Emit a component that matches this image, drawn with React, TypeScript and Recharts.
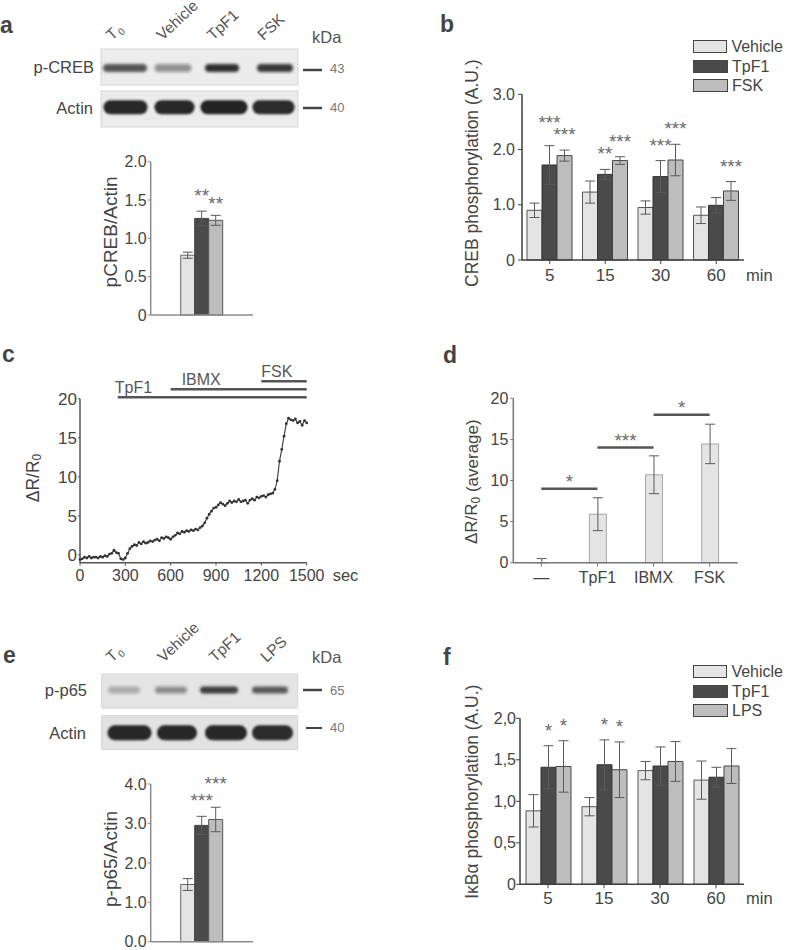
import React from 'react';
import {
  BarChart, Bar, XAxis, YAxis, ErrorBar, LabelList, Legend,
  LineChart, Line, ReferenceLine,
} from 'recharts';

const FONT = '"Liberation Sans", Arial, sans-serif';
const INK = '#444';
const STAR = '#6a6a6a';
const LIGHT = '#e4e4e4';
const DARK = '#4a4a4a';
const MID = '#bdbdbd';

// ---- panel a : blot + pCREB/Actin
const lanesA = ['T0', 'Vehicle', 'TpF1', 'FSK'];
const pCrebBand = [0.72, 0.42, 0.92, 0.88];
const actinBandA = [0.95, 0.95, 0.97, 0.93];
const pCrebActin = [0.78, 1.26, 1.235];
const pCrebActinErr = [0.04, 0.095, 0.065];
const pCrebActinStars = ['', '**', '**'];

// ---- panel b : CREB phosphorylation over time
const timeLabels = ['5', '15', '30', '60'];
const crebVehicle = [0.9, 1.23, 0.95, 0.81];
const crebVehicleErr = [0.13, 0.2, 0.12, 0.15];
const crebTpF1 = [1.72, 1.55, 1.51, 0.99];
const crebTpF1Err = [0.35, 0.09, 0.29, 0.14];
const crebTpF1Stars = ['***', '**', '***', ''];
const crebFSK = [1.89, 1.8, 1.81, 1.25];
const crebFSKErr = [0.1, 0.07, 0.285, 0.17];
const crebFSKStars = ['***', '***', '***', '***'];

// ---- panel c : FRET trace
const traceTime = [
  0, 15, 30, 45, 60, 75, 90, 105, 120, 135, 150, 165, 180, 195, 210, 225, 240, 255, 270, 285,
  300, 315, 330, 345, 360, 375, 390, 405, 420, 435, 450, 465, 480, 495, 510, 525, 540, 555, 570, 585,
  600, 615, 630, 645, 660, 675, 690, 705, 720, 735, 750, 765, 780, 795, 810, 825, 840, 855, 870, 885,
  900, 915, 930, 945, 960, 975, 990, 1005, 1020, 1035, 1050, 1065, 1080, 1095, 1110, 1125, 1140, 1155, 1170, 1185,
  1200, 1215, 1230, 1245, 1260, 1275, 1290, 1305, 1320, 1335, 1350, 1365, 1380, 1395, 1410, 1425, 1440, 1455, 1470, 1485,
  1500,
];
const traceRatio = [
  -0.6, -0.5, -0.3, -0.4, -0.2, -0.4, -0.3, -0.3, -0.4, -0.2, -0.3, -0.1, -0.2, 0.1, 0.2, 0.6, 0.3, 0.2, -0.5, -0.6,
  -0.4, 0.2, 0.8, 1.1, 1.3, 1.2, 1.6, 1.4, 1.7, 1.5, 1.6, 1.8, 1.7, 1.9, 2.0, 1.8, 2.2, 2.1, 2.3, 2.2,
  2.0, 2.3, 2.5, 2.8, 2.7, 3.0, 2.9, 3.1, 3.0, 3.2, 3.1, 3.3, 3.2, 3.5, 3.7, 4.1, 4.7, 5.2, 5.6, 6.0,
  6.1, 6.4, 6.7, 6.5, 6.3, 6.6, 6.9, 6.7, 6.9, 6.8, 7.1, 6.8, 6.9, 7.0, 6.6, 7.0, 7.2, 7.0, 7.4, 7.3,
  7.5, 7.6, 7.4, 7.7, 7.8, 7.9, 8.4, 9.5, 12.0, 13.5, 15.2, 16.8, 17.5, 17.3, 17.2, 17.4, 16.9, 17.1, 16.6, 17.2,
  16.9,
];
const secTicks = [0, 300, 600, 900, 1200, 1500];
const drugNames = ['TpF1', 'IBMX', 'FSK'];
const drugStart = [250, 600, 1200];
const drugEnd = [1500, 1500, 1500];
const drugLevel = [20.2, 21.2, 22.25];

// ---- panel d : average response
const stimNames = ['—', 'TpF1', 'IBMX', 'FSK'];
const stimMean = [0.02, 5.9, 10.7, 14.45];
const stimErr: [number, number][] = [[0.02, 0.48], [2.0, 2.0], [2.3, 2.3], [2.4, 2.4]];
const pairFrom = ['—', 'TpF1', 'IBMX'];
const pairTo = ['TpF1', 'IBMX', 'FSK'];
const pairLevel = [9, 14, 18];
const pairStars = ['*', '***', '*'];

// ---- panel e : blot + p-p65/Actin
const lanesE = ['T0', 'Vehicle', 'TpF1', 'LPS'];
const pP65Band = [0.28, 0.42, 0.85, 0.7];
const actinBandE = [0.95, 0.95, 0.95, 0.93];
const pP65Actin = [1.45, 2.95, 3.1];
const pP65ActinErr = [0.15, 0.23, 0.31];
const pP65ActinStars = ['', '***', '***'];

// ---- panel f : IkBa phosphorylation over time
const ikbVehicle = [0.885, 0.935, 1.37, 1.255];
const ikbVehicleErr = [0.195, 0.11, 0.11, 0.23];
const ikbTpF1 = [1.41, 1.44, 1.425, 1.29];
const ikbTpF1Err = [0.26, 0.3, 0.23, 0.12];
const ikbTpF1Stars = ['*', '*', '', ''];
const ikbLPS = [1.42, 1.38, 1.48, 1.425];
const ikbLPSErr = [0.31, 0.335, 0.24, 0.21];
const ikbLPSStars = ['*', '*', '', ''];

// rows for the library
const ratioA = [{
  name: '',
  veh: pCrebActin[0], vehErr: pCrebActinErr[0], vehStar: pCrebActinStars[0],
  tpf: pCrebActin[1], tpfErr: pCrebActinErr[1], tpfStar: pCrebActinStars[1],
  oth: pCrebActin[2], othErr: pCrebActinErr[2], othStar: pCrebActinStars[2],
}];
const ratioE = [{
  name: '',
  veh: pP65Actin[0], vehErr: pP65ActinErr[0], vehStar: pP65ActinStars[0],
  tpf: pP65Actin[1], tpfErr: pP65ActinErr[1], tpfStar: pP65ActinStars[1],
  oth: pP65Actin[2], othErr: pP65ActinErr[2], othStar: pP65ActinStars[2],
}];
const crebRows = timeLabels.map((t, i) => ({
  time: t,
  veh: crebVehicle[i], vehErr: crebVehicleErr[i],
  tpf: crebTpF1[i], tpfErr: crebTpF1Err[i], tpfStar: crebTpF1Stars[i],
  oth: crebFSK[i], othErr: crebFSKErr[i], othStar: crebFSKStars[i],
}));
const ikbRows = timeLabels.map((t, i) => ({
  time: t,
  veh: ikbVehicle[i], vehErr: ikbVehicleErr[i],
  tpf: ikbTpF1[i], tpfErr: ikbTpF1Err[i], tpfStar: ikbTpF1Stars[i],
  oth: ikbLPS[i], othErr: ikbLPSErr[i], othStar: ikbLPSStars[i],
}));
const traceRows = traceTime.map((t, i) => ({ t, r: traceRatio[i] }));
const stimRows = stimNames.map((n, i) => ({ name: n, mean: stimMean[i], err: stimErr[i] }));

// star sits ~20px over the top of the error bar
const starLabel = (rows: any[], key: string, lift: number[] = []) => (props: any) => {
  const vb = props.viewBox || props;
  const { index, value } = props;
  if (!value) return null;
  const row = rows[index];
  const ppu = vb.height / row[key];
  const top = vb.y - row[key + 'Err'] * ppu;
  const cy = top - 20 - (lift[index] || 0);
  return (
    <text x={vb.x + vb.width / 2} y={cy + 11} textAnchor="middle" fontSize={19} fill={STAR}>
      {value}
    </text>
  );
};

const yTitle = (content: React.ReactNode, gap: number, dy: number, size: number) => (props: any) => {
  const vb = props.viewBox;
  const cx = vb.x + vb.width - gap;
  const cy = vb.y + vb.height / 2 + dy;
  return (
    <text x={cx} y={cy} transform={`rotate(-90 ${cx} ${cy})`} textAnchor="middle"
      dominantBaseline="central" fontSize={size} fill={INK}>
      {content}
    </text>
  );
};

const unitLabel = (text: string, gap: number, dy: number) => (props: any) => {
  const vb = props.viewBox;
  return (
    <text x={vb.x + vb.width + gap} y={vb.y + dy} dominantBaseline="central" fontSize={16.5} fill={INK}>
      {text}
    </text>
  );
};

const legendBoxes = (names: string[]) => (props: any) => {
  const items = [...(props.payload || [])].sort(
    (a: any, b: any) => names.indexOf(a.value) - names.indexOf(b.value),
  );
  return (
    <div style={{ display: 'flex', flexDirection: 'column', gap: 6.5 }}>
      {items.map((p: any) => (
        <div key={p.value} style={{ display: 'flex', alignItems: 'center', height: 13 }}>
          <span style={{
            width: 33, height: 11, display: 'inline-block',
            background: (p.payload && p.payload.fill) || p.color, border: '1px solid #444',
          }} />
          <span style={{ marginLeft: 4, fontSize: 16, color: INK, lineHeight: '13px' }}>{p.value}</span>
        </div>
      ))}
    </div>
  );
};

const errStyle = { width: 5, stroke: '#5a5a5a', strokeWidth: 1 };

function Blot({ x, y, w, h, bg, laneX, widths, bandY, bandH, strength, blur }: any) {
  return (
    <g>
      <rect x={x} y={y} width={w} height={h} fill={bg} stroke="#d6d6d6" strokeWidth={1} />
      <g filter={`url(#${blur})`}>
        {strength.map((k: number, i: number) => (
          <rect key={i} x={x + laneX[i] - widths[i] / 2} y={y + bandY - bandH / 2}
            width={widths[i]} height={bandH} rx={bandH / 2}
            fill={`rgba(28,28,28,${k})`} />
        ))}
      </g>
    </g>
  );
}

function LaneNames({ names, x0, step, y }: any) {
  return (
    <g>
      {names.map((n: string, i: number) => {
        const x = x0 + i * step;
        return (
          <text key={n} x={x} y={y} transform={`rotate(-43 ${x} ${y})`} fontSize={15.5} fill="#555">
            {n === 'T0' ? <>T<tspan fontSize={10} dy={3} dx={1}>0</tspan></> : n}
          </text>
        );
      })}
    </g>
  );
}

function Overlay() {
  const letter = { fontSize: 23, fontWeight: 700, fill: '#444' } as const;
  const side = { fontSize: 16.5, fill: INK, textAnchor: 'end' as const, dominantBaseline: 'central' as const };
  const kda = { fontSize: 13, fill: '#777', dominantBaseline: 'central' as const };
  return (
    <svg width={787} height={950} style={{ position: 'absolute', left: 0, top: 0, pointerEvents: 'none' }}>
      <defs>
        <filter id="soft" x="-20%" y="-60%" width="140%" height="220%">
          <feGaussianBlur stdDeviation="1.6" />
        </filter>
        <filter id="soft2" x="-20%" y="-60%" width="140%" height="220%">
          <feGaussianBlur stdDeviation="1.1" />
        </filter>
      </defs>
      <text x={0} y={33} {...letter}>a</text>
      <text x={440} y={32} {...letter}>b</text>
      <text x={2} y={362} {...letter}>c</text>
      <text x={443} y={363} {...letter}>d</text>
      <text x={3} y={663} {...letter}>e</text>
      <text x={443} y={665} {...letter}>f</text>

      {/* blot a */}
      <LaneNames names={lanesA} x0={112} step={50.5} y={41} />
      <text x={312} y={37} fontSize={16.5} fill="#555" dominantBaseline="central">kDa</text>
      <Blot x={101} y={49} w={197} h={36} bg="#ececec" laneX={[24, 72, 121, 174]} widths={[44, 37, 34, 36]}
        bandY={19} bandH={8} strength={pCrebBand} blur="soft" />
      <Blot x={101} y={91} w={197} h={36} bg="#ebebeb" laneX={[24.5, 73.5, 123, 172.5]} widths={[44, 40, 47, 42]}
        bandY={16.3} bandH={14} strength={actinBandA} blur="soft2" />
      <text x={94} y={67} {...side}>p-CREB</text>
      <text x={93} y={108} {...side}>Actin</text>
      <line x1={303} x2={322} y1={70} y2={70} stroke="#444" strokeWidth={2.5} />
      <line x1={303} x2={322} y1={108} y2={108} stroke="#444" strokeWidth={2.5} />
      <text x={330} y={68} {...kda}>43</text>
      <text x={330} y={107} {...kda}>40</text>

      {/* blot e */}
      <LaneNames names={lanesE} x0={112} step={51.5} y={663} />
      <text x={312} y={657} fontSize={16.5} fill="#555" dominantBaseline="central">kDa</text>
      <Blot x={101.7} y={674} w={196} h={34} bg="#e4e4e4" laneX={[22.3, 69.3, 117.3, 168.3]} widths={[32, 32, 38, 36]}
        bandY={16} bandH={7} strength={pP65Band} blur="soft" />
      <Blot x={101.7} y={715.7} w={196} h={34} bg="#e2e2e2" laneX={[27.8, 75.3, 124.3, 170.8]} widths={[44, 40, 42, 41]}
        bandY={17} bandH={15} strength={actinBandE} blur="soft2" />
      <text x={87} y={690} {...side}>p-p65</text>
      <text x={86} y={733} {...side}>Actin</text>
      <line x1={303} x2={322} y1={690} y2={690} stroke="#444" strokeWidth={2.5} />
      <line x1={306} x2={322} y1={728} y2={728} stroke="#444" strokeWidth={2} />
      <text x={330} y={690} {...kda}>65</text>
      <text x={330} y={727.5} {...kda}>40</text>
    </svg>
  );
}

function RatioChart({ rows, top, domain, ticks, fmt, title, titleDy, lift }: any) {
  const axis = { stroke: '#8c8c8c', strokeWidth: 1.5 };
  const first = top === 150;
  return (
    <div style={{ position: 'absolute', left: 60, top }}>
      <BarChart width={205} height={first ? 175 : 184.7} data={rows} barSize={14} barGap={0}
        margin={{ top: first ? 11.7 : 19, right: 12, bottom: first ? 5 : 3, left: 0 }}>
        <XAxis dataKey="name" tick={false} tickLine={false} axisLine={axis} height={5} />
        <YAxis width={90.7} domain={domain} ticks={ticks} tickFormatter={fmt} interval={0}
          axisLine={axis} tickLine={{ stroke: '#8c8c8c' }} tickSize={3} tickMargin={1}
          tick={{ fontSize: 16, fill: INK }} label={yTitle(title, 40, titleDy, 19)} />
        <Bar dataKey="veh" fill={LIGHT} stroke="#666" isAnimationActive={false}>
          <ErrorBar dataKey="vehErr" direction="y" {...errStyle} />
        </Bar>
        <Bar dataKey="tpf" fill={DARK} stroke="#444" isAnimationActive={false}>
          <ErrorBar dataKey="tpfErr" direction="y" {...errStyle} />
          <LabelList dataKey="tpfStar" content={starLabel(rows, 'tpf')} />
        </Bar>
        <Bar dataKey="oth" fill={MID} stroke="#555" isAnimationActive={false}>
          <ErrorBar dataKey="othErr" direction="y" {...errStyle} />
          <LabelList dataKey="othStar" content={starLabel(rows, 'oth', [lift])} />
        </Bar>
      </BarChart>
    </div>
  );
}

function TimeChart({ rows, top, domain, ticks, fmt, title, titleDy, names, lift }: any) {
  const axis = { stroke: '#3f3f3f', strokeWidth: 1.5 };
  const first = top === 30;
  return (
    <div style={{ position: 'absolute', left: 440, top }}>
      <BarChart width={340} height={first ? 265 : 264.3} data={rows} barSize={15} barGap={0}
        margin={{ top: first ? 64.3 : 63.3, right: 36, bottom: 5, left: 0 }}>
        <XAxis dataKey="time" axisLine={axis} tickLine={{ stroke: '#3f3f3f' }} tickSize={4}
          tickMargin={first ? 5 : 4} height={30} interval={0} tick={{ fontSize: 17, fill: INK }}
          label={unitLabel('min', 2, first ? 15 : 14)} />
        <YAxis width={first ? 82 : 80} domain={domain} ticks={ticks} tickFormatter={fmt} interval={0}
          axisLine={axis} tickLine={{ stroke: '#3f3f3f' }} tickSize={4} tickMargin={first ? 3 : 0}
          tick={{ fontSize: 16, fill: INK }} label={yTitle(title, first ? 50.3 : 48.3, titleDy, 17.5)} />
        <Legend layout="vertical" align="center" verticalAlign="middle" content={legendBoxes(names)}
          wrapperStyle={{ left: 253, top: 10, width: 90, height: 60 }} />
        <Bar dataKey="veh" name={names[0]} fill={LIGHT} stroke="#555" isAnimationActive={false}>
          <ErrorBar dataKey="vehErr" direction="y" {...errStyle} />
        </Bar>
        <Bar dataKey="tpf" name={names[1]} fill={DARK} stroke="#333" isAnimationActive={false}>
          <ErrorBar dataKey="tpfErr" direction="y" {...errStyle} />
          <LabelList dataKey="tpfStar" content={starLabel(rows, 'tpf', lift)} />
        </Bar>
        <Bar dataKey="oth" name={names[2]} fill={MID} stroke="#444" isAnimationActive={false}>
          <ErrorBar dataKey="othErr" direction="y" {...errStyle} />
          <LabelList dataKey="othStar" content={starLabel(rows, 'oth')} />
        </Bar>
      </BarChart>
    </div>
  );
}

const drugLabelDx = [-3, 11, 0];

function TraceChart() {
  const axis = { stroke: '#555', strokeWidth: 1.5 };
  return (
    <div style={{ position: 'absolute', left: 20, top: 355 }}>
      <LineChart width={350} height={237.7} data={traceRows}
        margin={{ top: 43.7, right: 63.3, bottom: 5, left: 0 }}>
        <XAxis type="number" dataKey="t" domain={[0, 1500]} ticks={secTicks} interval={0}
          axisLine={axis} tickLine={{ stroke: '#555' }} tickSize={3} tickMargin={3.5} height={25}
          tick={{ fontSize: 16, fill: INK }} label={unitLabel('sec', 26, 12.3)} />
        <YAxis type="number" domain={[-1, 20]} ticks={[0, 5, 10, 15, 20]} interval={0} width={60}
          axisLine={axis} tickLine={{ stroke: '#555' }} tickSize={2} tickMargin={1}
          tick={{ fontSize: 17, fill: INK }}
          label={yTitle(<>ΔR/R<tspan fontSize={12} dy={4}>0</tspan></>, 47, -2.7, 17.5)} />
        {drugNames.map((d, i) => (
          <ReferenceLine key={d} ifOverflow="visible" stroke="#555" strokeWidth={2.5}
            segment={[{ x: drugStart[i], y: drugLevel[i] }, { x: drugEnd[i], y: drugLevel[i] }]}
            label={(p: any) => (
              <text x={p.viewBox.x + drugLabelDx[i]} y={p.viewBox.y - 4.5} fontSize={16} fill="#555">{d}</text>
            )} />
        ))}
        <Line type="linear" dataKey="r" stroke="#3a3a3a" strokeWidth={1.1}
          dot={{ r: 1.4, fill: '#333', stroke: 'none' }} isAnimationActive={false} />
      </LineChart>
    </div>
  );
}

function StimChart() {
  const axis = { stroke: '#777', strokeWidth: 1.5 };
  return (
    <div style={{ position: 'absolute', left: 440, top: 370 }}>
      <BarChart width={320} height={222.7} data={stimRows} barSize={17}
        margin={{ top: 28.3, right: 22.3, bottom: 5, left: 0 }}>
        <XAxis dataKey="name" axisLine={axis} tickLine={{ stroke: '#777' }} tickSize={4} tickMargin={4.5}
          height={25} interval={0} tick={{ fontSize: 16, fill: INK }} />
        <YAxis domain={[0, 20]} ticks={[0, 5, 10, 15, 20]} interval={0} width={73.3}
          axisLine={axis} tickLine={{ stroke: '#777' }} tickSize={3} tickMargin={2}
          tick={{ fontSize: 16, fill: INK }}
          label={yTitle(<>ΔR/R<tspan fontSize={12} dy={4}>0</tspan><tspan dy={-4}> (average)</tspan></>, 41.6, 1.2, 17)} />
        {pairStars.map((s, i) => (
          <ReferenceLine key={i} stroke="#555" strokeWidth={2.5} ifOverflow="visible"
            segment={[{ x: pairFrom[i], y: pairLevel[i] }, { x: pairTo[i], y: pairLevel[i] }]}
            label={(p: any) => (
              <text x={p.viewBox.x + p.viewBox.width / 2} y={p.viewBox.y - 1} textAnchor="middle"
                fontSize={19} fill={STAR}>{s}</text>
            )} />
        ))}
        <Bar dataKey="mean" fill={LIGHT} stroke="#777" strokeWidth={0.6} isAnimationActive={false}>
          <ErrorBar dataKey="err" direction="y" {...errStyle} />
        </Bar>
      </BarChart>
    </div>
  );
}

export default function App() {
  const dot1 = (v: number) => (v === 0 ? '0' : v.toFixed(1));
  const comma = (v: number) => (v === 0 ? '0' : v.toFixed(1).replace('.', ','));
  return (
    <div style={{
      position: 'absolute', left: 0, top: 0, width: 787, height: 950,
      background: '#fff', fontFamily: FONT, overflow: 'hidden',
    }}>
      <Overlay />
      <RatioChart rows={ratioA} top={150} domain={[0, 2]} ticks={[0, 0.5, 1, 1.5, 2]} fmt={dot1}
        title="pCREB/Actin" titleDy={-6.4} lift={-4} />
      <RatioChart rows={ratioE} top={765} domain={[0, 4]} ticks={[0, 1, 2, 3, 4]}
        fmt={(v: number) => v.toFixed(1)} title="p-p65/Actin" titleDy={-3.9} lift={8} />
      <TimeChart rows={crebRows} top={30} domain={[0, 3]} ticks={[0, 1, 2, 3]} fmt={dot1}
        title="CREB phosphorylation (A.U.)" titleDy={-4} names={['Vehicle', 'TpF1', 'FSK']} lift={[8]} />
      <TimeChart rows={ikbRows} top={655} domain={[0, 2]} ticks={[0, 0.5, 1, 1.5, 2]} fmt={comma}
        title="IκBα phosphorylation (A.U.)" titleDy={-9.6} names={['Vehicle', 'TpF1', 'LPS']} lift={[]} />
      <TraceChart />
      <StimChart />
    </div>
  );
}
